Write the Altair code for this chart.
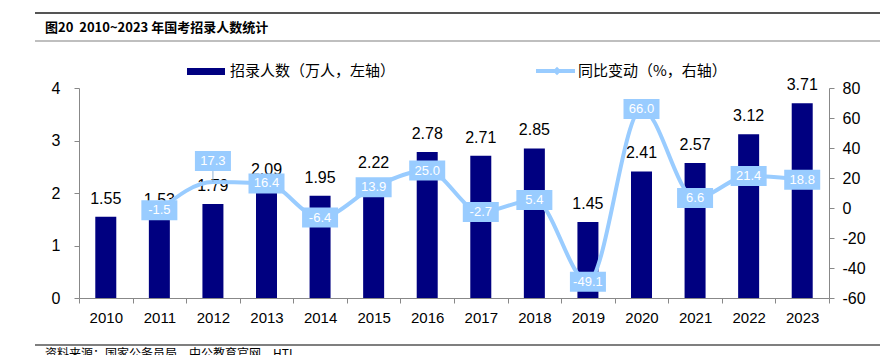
import altair as alt
import pandas as pd

years = ["2010", "2011", "2012", "2013", "2014", "2015", "2016",
         "2017", "2018", "2019", "2020", "2021", "2022", "2023"]
recruits = [1.55, 1.53, 1.79, 2.09, 1.95, 2.22, 2.78, 2.71, 2.85, 1.45, 2.41, 2.57, 3.12, 3.71]
yoy = [None, -1.5, 17.3, 16.4, -6.4, 13.9, 25.0, -2.7, 5.4, -49.1, 66.0, 6.6, 21.4, 18.8]

df = pd.DataFrame({"year": years, "recruits": recruits, "yoy": yoy})
df["yoy_label"] = [("" if v is None or pd.isna(v) else f"{v:.1f}") for v in df["yoy"]]
df["bar_label"] = [f"{v:.2f}" for v in df["recruits"]]

NAVY = "#000080"
LIGHT = "#99CCFF"
NUM_FONT = "Liberation Sans"
CJK_FONT = "Noto Sans CJK SC"

x_enc = alt.X("year:N", sort=years, title=None,
              scale=alt.Scale(paddingInner=0, paddingOuter=0),
              axis=alt.Axis(labelAngle=0, labelFont=NUM_FONT, labelFontSize=15,
                            labelColor="#000", tickBand="extent", tickSize=5,
                            tickColor="#888", domainColor="#888", labelPadding=7,
                            grid=False))

base = alt.Chart(df)

y_left = alt.Y("recruits:Q", title=None,
               scale=alt.Scale(domain=[0, 4], nice=False),
               axis=alt.Axis(values=[0, 1, 2, 3, 4], labelFont=NUM_FONT, labelFontSize=16,
                             labelColor="#000", tickSize=5, tickColor="#888",
                             domainColor="#888", labelPadding=14, grid=False,
                             labelExpr="toString(datum.value)"))

bars = base.mark_bar(size=21, color=NAVY).encode(x=x_enc, y=y_left)
bar_text = base.mark_text(font=NUM_FONT, fontSize=16, color="#000", dy=-10,
                          baseline="bottom").encode(x=x_enc, y=y_left, text="bar_label:N")
left_group = alt.layer(bars, bar_text)

y_right = alt.Y("yoy:Q", title=None,
                scale=alt.Scale(domain=[-60, 80], nice=False),
                axis=alt.Axis(orient="right", values=list(range(-60, 81, 20)),
                              labelFont=NUM_FONT, labelFontSize=16, labelColor="#000",
                              tickSize=5, tickColor="#888", domainColor="#888",
                              labelPadding=8, grid=False,
                              labelExpr="toString(datum.value)"))

line_base = base.transform_filter("isValid(datum.yoy)")
line = line_base.mark_line(color=LIGHT, strokeWidth=4, interpolate="monotone").encode(
    x=x_enc, y=y_right)

BOX = "M-1,-0.556H1V0.556H-1Z"
normal = line_base.transform_filter("datum.year != '2012'")
raised = line_base.transform_filter("datum.year == '2012'")

boxes = normal.mark_point(shape=BOX, size=1296, filled=True, color=LIGHT,
                          opacity=1, strokeWidth=0).encode(x=x_enc, y=y_right)
box_text = normal.mark_text(font=NUM_FONT, fontSize=13, color="#fff").encode(
    x=x_enc, y=y_right, text="yoy_label:N")
leader = raised.mark_rule(color="#8fb3d9", strokeWidth=1, y2Offset=-11).encode(
    x=x_enc, y=y_right, y2=alt.Y2("yoy:Q"))
boxes2 = raised.mark_point(shape=BOX, size=1296, filled=True, color=LIGHT,
                           opacity=1, strokeWidth=0, yOffset=-21).encode(x=x_enc, y=y_right)
box_text2 = raised.mark_text(font=NUM_FONT, fontSize=13, color="#fff", dy=-21).encode(
    x=x_enc, y=y_right, text="yoy_label:N")
right_group = alt.layer(line, boxes, box_text, leader, boxes2, box_text2)

main = alt.layer(left_group, right_group).resolve_scale(y="independent")

# decorations: title, rules, legend, source
deco_src = alt.Chart(pd.DataFrame({"k": [0]}))
top_rule = deco_src.mark_rule(color="#555", strokeWidth=2).encode(
    x=alt.value(-44), x2=alt.value(801), y=alt.value(-75))
sub_rule = deco_src.mark_rule(color="#aaa", strokeWidth=1.5).encode(
    x=alt.value(-44), x2=alt.value(801), y=alt.value(-47))
bottom_rule = deco_src.mark_rule(color="#555", strokeWidth=1.5).encode(
    x=alt.value(-44), x2=alt.value(801), y=alt.value(257))
title = deco_src.mark_text(font=CJK_FONT, fontSize=13, fontWeight="bold", align="left",
                           baseline="middle", color="#000").encode(
    x=alt.value(-34), y=alt.value(-60),
    text=alt.value("图20\u00a0\u00a02010~2023 年国考招录人数统计"))
source = deco_src.mark_text(font=CJK_FONT, fontSize=12, align="left", baseline="top",
                            color="#000").encode(
    x=alt.value(-34), y=alt.value(261), text=alt.value("资料来源：国家公务员局，中公教育官网，HTI"))
leg_rect = deco_src.mark_rect(color=NAVY).encode(
    x=alt.value(108), x2=alt.value(146), y=alt.value(-20), y2=alt.value(-13))
leg_text1 = deco_src.mark_text(font=CJK_FONT, fontSize=15, align="left", baseline="middle",
                               color="#000").encode(
    x=alt.value(151), y=alt.value(-17), text=alt.value("招录人数（万人，左轴）"))
leg_line = deco_src.mark_rule(color=LIGHT, strokeWidth=4).encode(
    x=alt.value(457), x2=alt.value(496), y=alt.value(-17))
leg_pt = deco_src.mark_point(shape="diamond", size=70, filled=True, color=LIGHT, opacity=1).encode(
    x=alt.value(478), y=alt.value(-17))
leg_text2 = deco_src.mark_text(font=CJK_FONT, fontSize=15, align="left", baseline="middle",
                               color="#000").encode(
    x=alt.value(499), y=alt.value(-17), text=alt.value("同比变动（%，右轴）"))

chart = alt.layer(main, top_rule, sub_rule, bottom_rule, title, source,
                  leg_rect, leg_text1, leg_line, leg_pt, leg_text2).properties(
    width=750, height=210,
    autosize=alt.AutoSizeParams(type="none"),
    padding={"left": 79, "top": 88, "right": 54, "bottom": 57},
    background="#ffffff",
).configure_view(stroke=None)

chart.save("out.html", embed_options={"renderer": "svg", "actions": False})
